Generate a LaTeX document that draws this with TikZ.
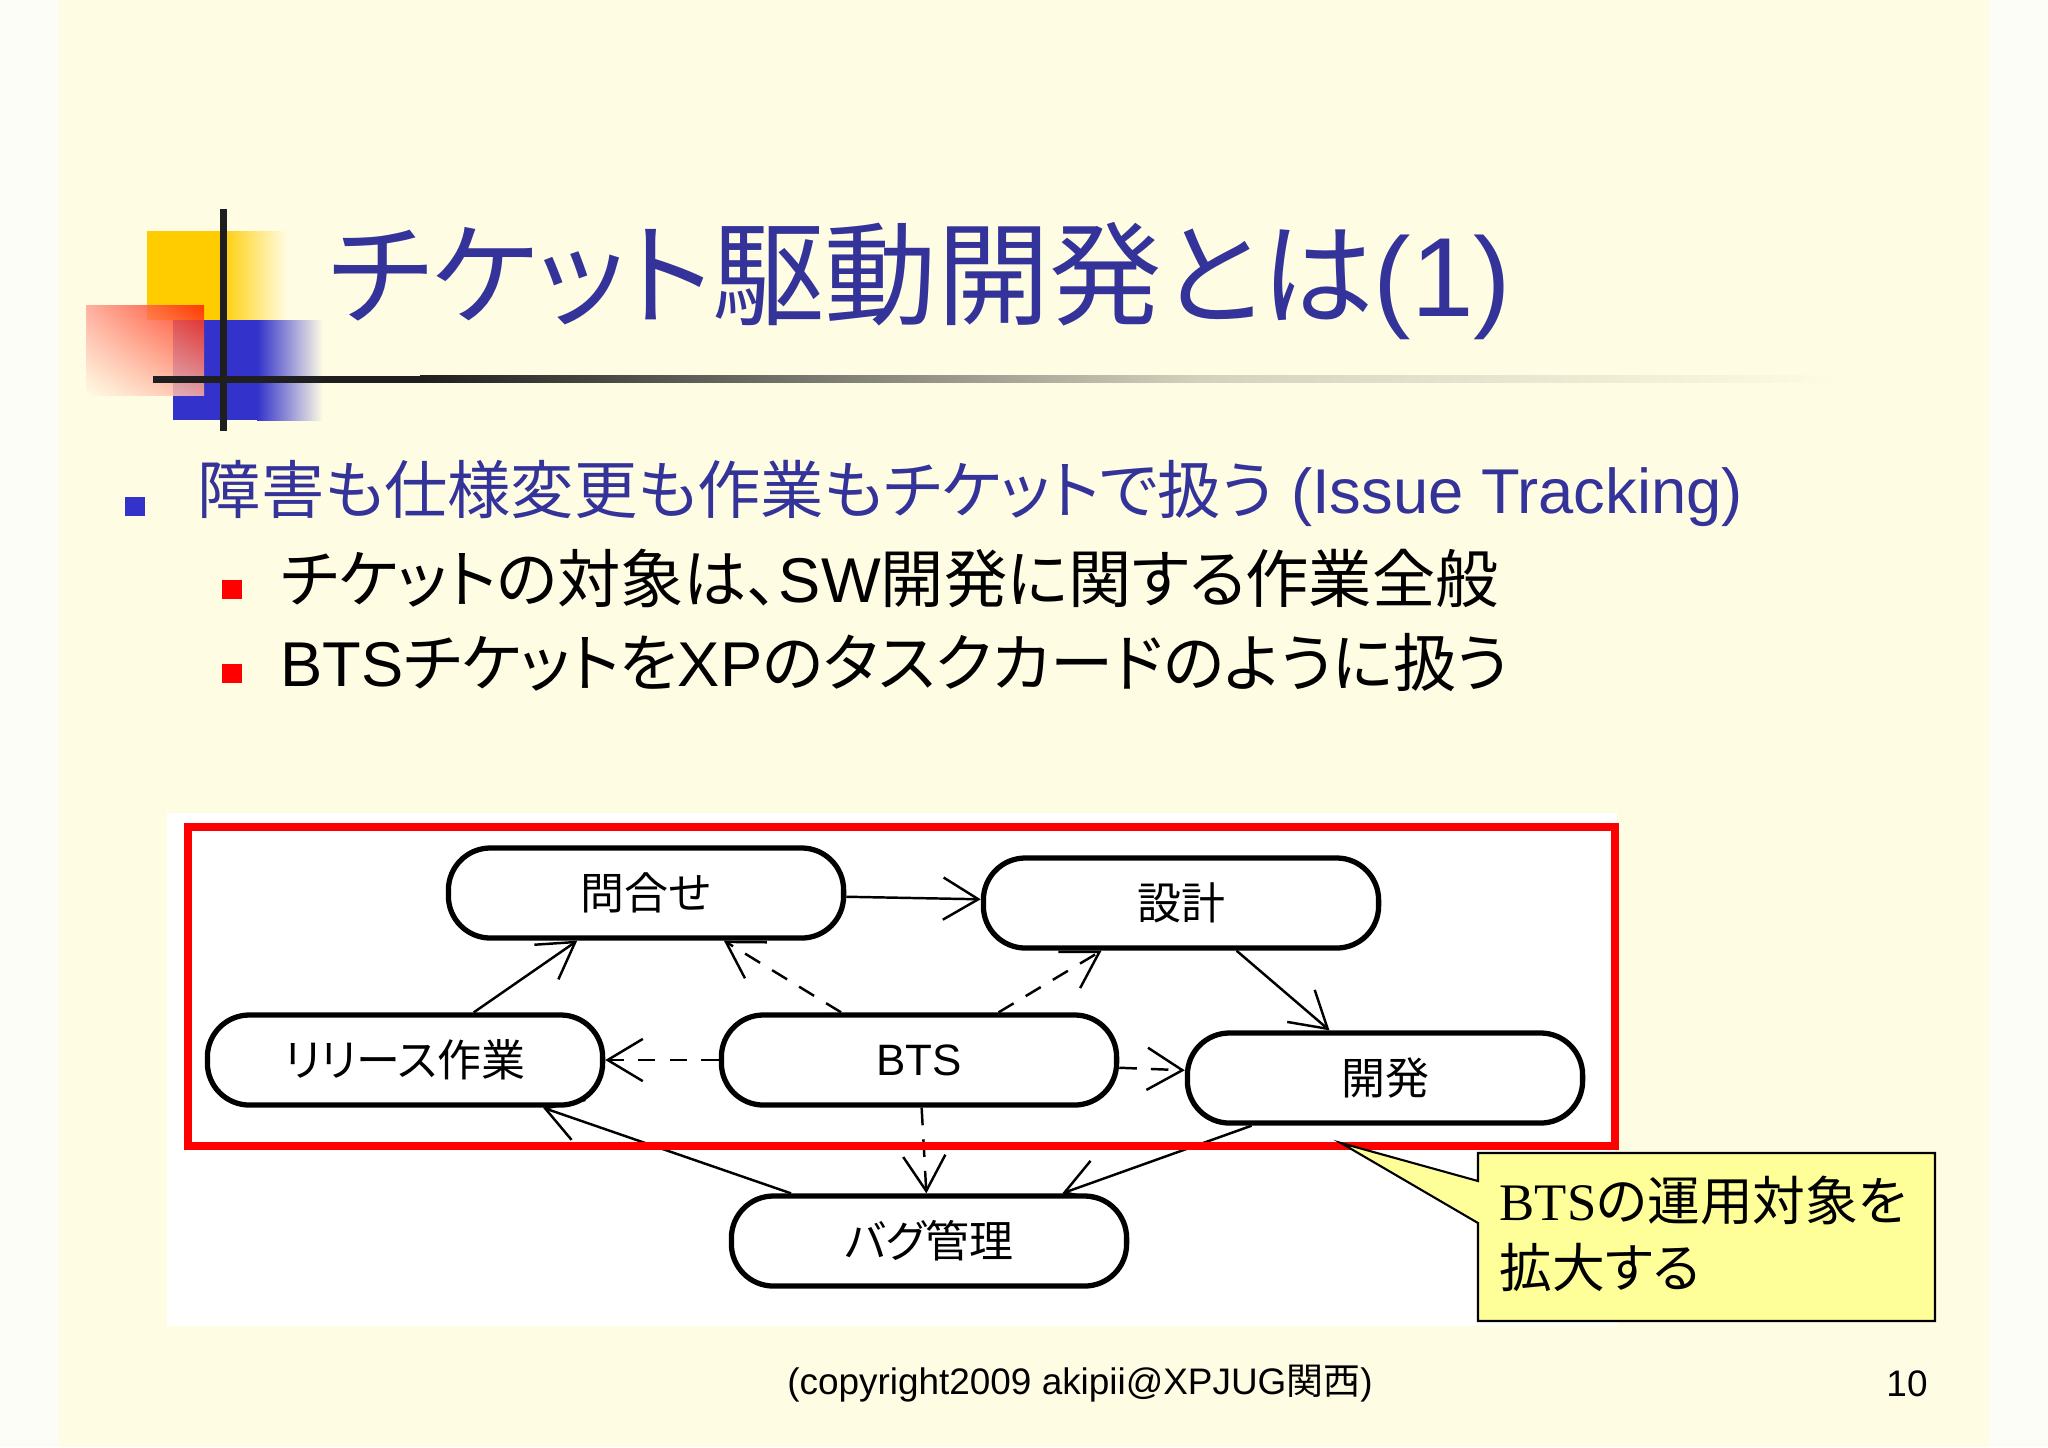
\documentclass[tikz,border=0pt]{standalone}
\usepackage{fontspec}
\setmainfont{Liberation Sans}
\newfontfamily\jp{Noto Sans CJK JP}[RawFeature=+palt]
\newfontfamily\tms{Liberation Serif}
\usetikzlibrary{arrows.meta,shadings}
\definecolor{slidebg}{RGB}{255,252,228}
\definecolor{pagebg}{RGB}{252,253,246}
\definecolor{titleblue}{RGB}{51,51,153}
\definecolor{squareblue}{RGB}{51,51,204}
\definecolor{logoyellow}{RGB}{255,204,0}
\definecolor{logored}{RGB}{255,32,0}
\definecolor{notefill}{RGB}{255,255,153}

\begin{document}
\begin{tikzpicture}[x=0.01cm, y=-0.01cm,
    state/.style={draw, line width=1.5pt, fill=white, rounded corners=0.42cm,
      minimum width=3.95cm, minimum height=0.9cm, font=\fontsize{12.5}{14}\selectfont},
    flow/.style={-{Straight Barb[length=10pt,width=12pt]}, line width=0.7pt},
    trace/.style={flow, dash pattern=on 5pt off 4pt},
    bulletsq/.style={minimum size=0.19cm, inner sep=0, outer sep=0},
    itemtext/.style={anchor=west, inner sep=0, font=\fontsize{18}{22}\selectfont}
]
\useasboundingbox (0,0) rectangle (2048,1447);
\fill[pagebg] (0,0) rectangle (2048,1447);
\fill[slidebg] (59,0) rectangle (1989,1447);

% Title logo
\fill[logoyellow] (147,231) rectangle (220,320);
\shade[left color=logoyellow, right color=slidebg] (220,231) rectangle (287,320);
\fill[squareblue] (173,320) rectangle (257,420);
\shade[left color=squareblue, right color=slidebg] (257,320) rectangle (323,420);
\shade[opacity=0.85, shading=bilinear interpolation, upper right=logored,
  upper left=red!35!slidebg, lower left=slidebg, lower right=red!30!slidebg]
  (86,305) rectangle (204,395);
\fill[black!88] (219.5,209) rectangle (226.5,431);
\fill[black!88] (153,375.5) rectangle (420,382.5);
\shade[left color=black!88, right color=black!17!slidebg] (420,375.5) rectangle (1200,382.5);
\shade[left color=black!17!slidebg, right color=slidebg] (1200,375.5) rectangle (1840,382.5);

% Title
\node[anchor=west, inner sep=0, text=titleblue, font=\fontsize{32}{38}\selectfont]
  (title) at (328,281) {{\jp チケット駆動開発とは}(1)};

% Bullets
\node[bulletsq, fill=squareblue] (b1) at (135,506) {};
\node[itemtext, text=titleblue] (t1) at (197,493)
  {{\jp 障害も仕様変更も作業もチケットで扱う} (Issue Tracking)};
\node[bulletsq, fill=red] (b2) at (232,589) {};
\node[itemtext] (t2) at (280,578) {{\jp チケットの対象は、}SW{\jp 開発に関する作業全般}};
\node[bulletsq, fill=red] (b3) at (232,673) {};
\node[itemtext] (t3) at (280,662) {BTS{\jp チケットを}XP{\jp のタスクカードのように扱う}};

% Diagram
\fill[white] (167,813) rectangle (1617,1326);
\node[state] (inq) at (646,893) {\jp 問合せ};
\node[state] (des) at (1181,903) {\jp 設計};
\node[state] (rel) at (405,1060) {\jp リリース作業};
\node[state] (bts) at (919,1060) {BTS};
\node[state] (dev) at (1385,1078) {\jp 開発};
\node[state] (bug) at (929,1241) {\jp バグ管理};

\draw[flow] (inq) -- (des);
\draw[flow] (rel) -- (inq);
\draw[flow] (des) -- (dev);
\draw[flow] (bug) -- (rel);
\draw[flow] (dev) -- (bug);
\draw[trace] (bts) -- (inq);
\draw[trace] (bts) -- (des);
\draw[trace] (bts) -- (rel);
\draw[trace] (bts) -- (dev);
\draw[trace] (bts) -- (bug);

\draw[red, line width=2.3pt] (188,827) rectangle (1615,1146);

% Callout
\coordinate (tip) at (1341,1143);
\filldraw[fill=notefill, draw=black, line width=0.6pt] (1478,1153) -- (1935,1153)
  -- (1935,1321) -- (1478,1321) -- (1478,1223) -- (tip) -- (1478,1181) -- cycle;
\node[anchor=west, align=left, inner sep=0, font=\fontsize{15}{19}\selectfont]
  (note) at (1499,1234) {{\tms BTS}{\jp の運用対象を}\\{\jp 拡大する}};

% Footer
\node[font=\fontsize{10.5}{12}\selectfont] (copy) at (1080,1384)
  {(copyright2009 akipii@XPJUG{\jp 関西})};
\node[font=\fontsize{10.5}{12}\selectfont] (pageno) at (1907,1384) {10};
\end{tikzpicture}
\end{document}
